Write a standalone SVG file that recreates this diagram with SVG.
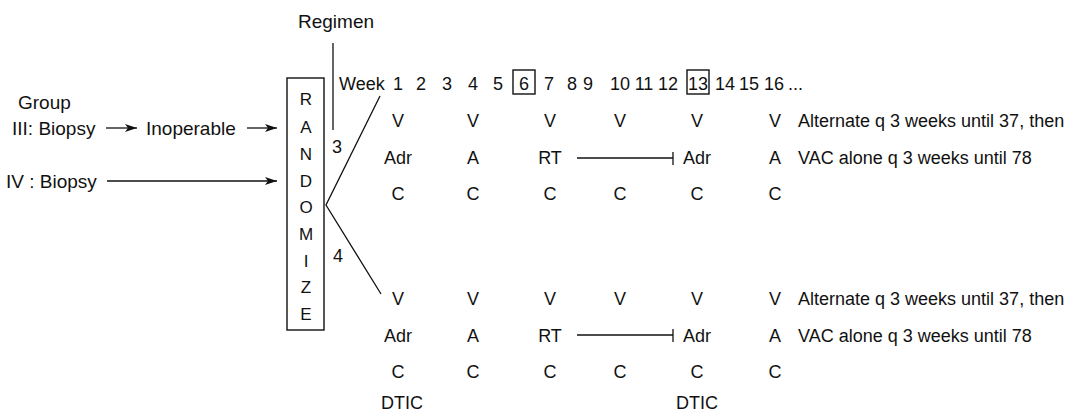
<svg xmlns="http://www.w3.org/2000/svg" width="1073" height="411" viewBox="0 0 1073 411">
<style>
text{font-family:"Liberation Sans",Arial,sans-serif;fill:#111;}
.l{font-size:19px;}
.t{font-size:18px;}
.c{font-size:18px;text-anchor:middle;}
.r{font-size:17px;text-anchor:middle;}
.ln{stroke:#111;stroke-width:1.3;fill:none;}
.bx{stroke:#111;stroke-width:1.4;fill:none;}
</style>
<defs>
<marker id="ah" viewBox="0 0 12 8" refX="12" refY="4" markerWidth="12" markerHeight="8" markerUnits="userSpaceOnUse" orient="auto">
<path d="M0,0 L12,4 L0,8 L3,4 Z" fill="#111"/>
</marker>
</defs>
<rect width="1073" height="411" fill="#fff"/>

<g id="regimen-label"><text class="l" x="298" y="28">Regimen</text></g>
<g id="group-label"><text class="l" x="18" y="109">Group</text></g>
<g id="group3-biopsy"><text class="l" x="12" y="135">III: Biopsy</text></g>
<g id="inoperable"><text class="l" x="146" y="135">Inoperable</text></g>
<g id="group4-biopsy"><text class="l" x="6" y="188">IV : Biopsy</text></g>

<g id="randomize">
<rect class="bx" x="287" y="78" width="37" height="252"/>
<text class="r" x="306" y="105">R</text>
<text class="r" x="306" y="133">A</text>
<text class="r" x="306" y="160">N</text>
<text class="r" x="306" y="187">D</text>
<text class="r" x="306" y="213">O</text>
<text class="r" x="306" y="240">M</text>
<text class="r" x="306" y="267">I</text>
<text class="r" x="306" y="293">Z</text>
<text class="r" x="306" y="320">E</text>
</g>

<g id="branch-labels">
<text class="c" x="337" y="153">3</text>
<text class="c" x="338" y="262">4</text>
</g>

<g id="weeks">
<text class="t" x="339" y="90">Week</text>
<text class="c" x="398" y="90">1</text>
<text class="c" x="421" y="90">2</text>
<text class="c" x="447" y="90">3</text>
<text class="c" x="473" y="90">4</text>
<text class="c" x="498" y="90">5</text>
<rect class="bx" x="513" y="70" width="22" height="24"/>
<text class="c" x="524" y="90">6</text>
<text class="c" x="549" y="90">7</text>
<text class="c" x="572" y="90">8</text>
<text class="c" x="588" y="90">9</text>
<text class="c" x="620" y="90">10</text>
<text class="c" x="644" y="90">11</text>
<text class="c" x="668" y="90">12</text>
<rect class="bx" x="687" y="70" width="22" height="24"/>
<text class="c" x="698" y="90">13</text>
<text class="c" x="725" y="90">14</text>
<text class="c" x="749" y="90">15</text>
<text class="c" x="774" y="90">16</text>
<text class="t" x="788" y="90">...</text>
</g>

<g id="regimen-3">
<text class="c" x="398" y="127">V</text>
<text class="c" x="473" y="127">V</text>
<text class="c" x="550" y="127">V</text>
<text class="c" x="620" y="127">V</text>
<text class="c" x="697" y="127">V</text>
<text class="c" x="775" y="127">V</text>
<text class="t" x="798" y="127">Alternate q 3 weeks until 37, then</text>
<text class="c" x="398" y="164">Adr</text>
<text class="c" x="473" y="164">A</text>
<text class="c" x="550" y="164">RT</text>
<text class="c" x="697" y="164">Adr</text>
<text class="c" x="775" y="164">A</text>
<text class="t" x="798" y="164">VAC alone q 3 weeks until 78</text>
<text class="c" x="398" y="200">C</text>
<text class="c" x="473" y="200">C</text>
<text class="c" x="550" y="200">C</text>
<text class="c" x="620" y="200">C</text>
<text class="c" x="697" y="200">C</text>
<text class="c" x="775" y="200">C</text>
</g>

<g id="regimen-4">
<text class="c" x="398" y="305">V</text>
<text class="c" x="473" y="305">V</text>
<text class="c" x="550" y="305">V</text>
<text class="c" x="620" y="305">V</text>
<text class="c" x="697" y="305">V</text>
<text class="c" x="775" y="305">V</text>
<text class="t" x="798" y="305">Alternate q 3 weeks until 37, then</text>
<text class="c" x="398" y="342">Adr</text>
<text class="c" x="473" y="342">A</text>
<text class="c" x="550" y="342">RT</text>
<text class="c" x="697" y="342">Adr</text>
<text class="c" x="775" y="342">A</text>
<text class="t" x="798" y="342">VAC alone q 3 weeks until 78</text>
<text class="c" x="398" y="378">C</text>
<text class="c" x="473" y="378">C</text>
<text class="c" x="550" y="378">C</text>
<text class="c" x="620" y="378">C</text>
<text class="c" x="697" y="378">C</text>
<text class="c" x="775" y="378">C</text>
<text class="c" x="402" y="409">DTIC</text>
<text class="c" x="697" y="409">DTIC</text>
</g>

<g id="connectors">
<line class="ln" x1="106" y1="128" x2="137" y2="128" marker-end="url(#ah)"/>
<line class="ln" x1="247" y1="128" x2="277" y2="128" marker-end="url(#ah)"/>
<line class="ln" x1="107" y1="181" x2="277" y2="181" marker-end="url(#ah)"/>
<line class="ln" x1="333" y1="43" x2="333" y2="130"/>
<polyline class="ln" points="380,96 326,205 381,294"/>
<line class="ln" x1="577" y1="158" x2="673" y2="158"/>
<line class="ln" x1="673" y1="152" x2="673" y2="165"/>
<line class="ln" x1="577" y1="335" x2="673" y2="335"/>
<line class="ln" x1="673" y1="329" x2="673" y2="342"/>
</g>
</svg>
